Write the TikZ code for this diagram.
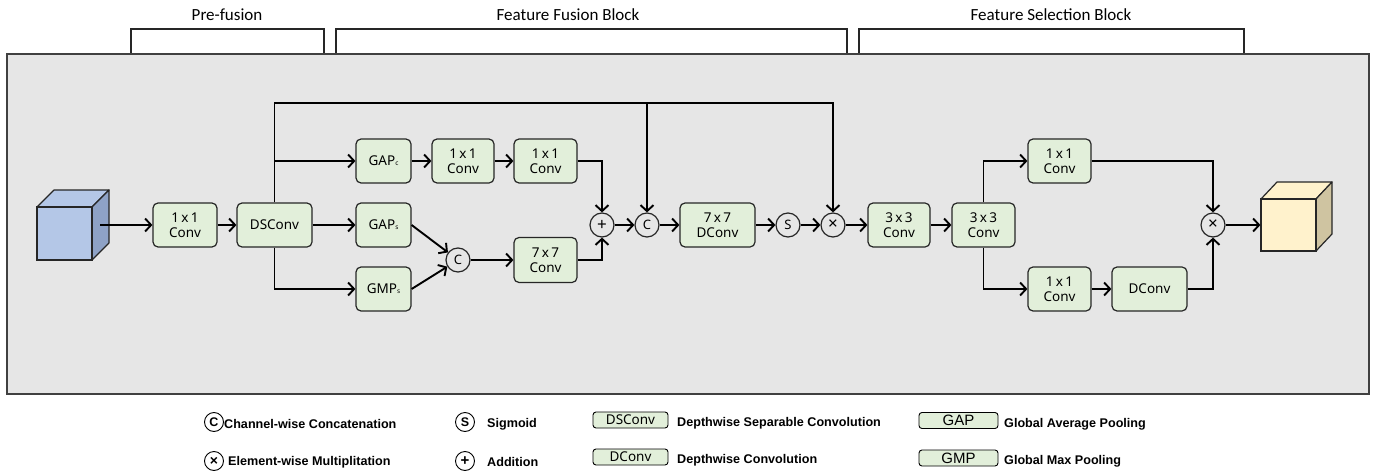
\documentclass[tikz,border=0pt]{standalone}
\usepackage{fontspec}
\setmainfont{Noto Sans}
\newfontfamily\hdrfont{Carlito}
\newfontfamily\lgdfont{Liberation Sans}
\usetikzlibrary{arrows.meta}
\definecolor{bgc}{HTML}{E6E6E6}
\definecolor{boxg}{HTML}{E2EFDA}
\definecolor{edge}{HTML}{262626}
\definecolor{cubeB}{HTML}{B4C7E7}
\definecolor{cubeBs}{HTML}{8EA2C6}
\definecolor{cubeY}{HTML}{FFF2CC}
\definecolor{cubeYs}{HTML}{CFC4A1}
\newcommand{\subsc}[1]{{\fontsize{6.5}{6.5}\selectfont #1}}
\newcommand{\bigx}{{\fontsize{17}{17}\selectfont ×}}
\newcommand{\lbigx}{{\fontsize{14}{14}\selectfont ×}}
\newcommand{\bigplus}{{\fontsize{17}{17}\selectfont +}}
\newcommand{\lbigplus}{{\fontsize{15}{15}\selectfont +}}
\begin{document}
\begin{tikzpicture}[x=1pt,y=-1pt,
  blk/.style={draw=edge, fill=boxg, rounded corners=5pt, line width=1.2pt,
    minimum height=44pt, inner sep=0pt, align=center,
    font=\fontsize{13.5}{15}\selectfont},
  opc/.style={circle, draw=edge, fill=bgc, line width=1.2pt, minimum size=24pt,
    inner sep=0pt, font=\fontsize{13}{13}\selectfont\bfseries},
  arr/.style={line width=1.9pt, -{Straight Barb[length=6pt,width=13pt]}},
  brk/.style={draw=edge, line width=1.1pt},
  hdr/.style={font=\hdrfont\fontsize{17}{17}\selectfont, inner sep=0pt},
  lcirc/.style={circle, draw=black, fill=white, line width=0.9pt, minimum size=19pt,
    inner sep=0pt, font=\lgdfont\fontsize{12.5}{12.5}\selectfont\bfseries},
  ltxt/.style={anchor=west, inner sep=0pt, font=\lgdfont\fontsize{12.6}{12.6}\selectfont\bfseries},
  lbox/.style={draw=black, fill=boxg, rounded corners=3pt, line width=0.9pt,
    minimum width=75pt, minimum height=16pt, inner sep=0pt,
    font=\fontsize{13.5}{13.5}\selectfont},
  lbox2/.style={draw=black, fill=boxg, rounded corners=3pt, line width=0.9pt,
    minimum width=79pt, minimum height=16pt, inner sep=0pt,
    font=\lgdfont\fontsize{15}{15}\selectfont}
]
\useasboundingbox (0,0) rectangle (1378,476);

% headers
\node[hdr] (h1) at (227,15) {Pre-fusion};
\node[hdr] (h2) at (568,15) {Feature Fusion Block};
\node[hdr] (h3) at (1051,15) {Feature Selection Block};
\draw[brk] (131,55) -- (131,29) -- (324,29) -- (324,55);
\draw[brk] (336,55) -- (336,29) -- (847,29) -- (847,55);
\draw[brk] (859,55) -- (859,29) -- (1244,29) -- (1244,55);

% main panel
\draw[fill=bgc, draw=black!75, line width=1.4pt] (7,54) rectangle (1369,394);

% input cube
\fill[cubeB, draw=edge, line width=1.2pt, line join=round] (37,207) -- (54,190) -- (109,190) -- (92,207) -- cycle;
\fill[cubeBs, draw=edge, line width=1.2pt, line join=round] (92,207) -- (109,190) -- (109,243) -- (92,260) -- cycle;
\node[draw=edge, fill=cubeB, line width=1.2pt, minimum width=55pt, minimum height=53pt, inner sep=0pt] (incube) at (64.5,233.5) {};
\coordinate (inc) at (100,225);

% output cube
\fill[cubeY, draw=edge, line width=1.2pt, line join=round] (1261,199) -- (1277,182) -- (1332,182) -- (1316,199) -- cycle;
\fill[cubeYs, draw=edge, line width=1.2pt, line join=round] (1316,199) -- (1332,182) -- (1332,234) -- (1316,251) -- cycle;
\node[draw=edge, fill=cubeY, line width=1.2pt, minimum width=55pt, minimum height=52pt, inner sep=0pt] (outcube) at (1288.5,225) {};

% blocks
\node[blk, minimum width=64pt] (conv1) at (185,225) {1\,x\,1\\Conv};
\node[blk, minimum width=75pt] (dsconv) at (274.5,225) {DSConv};
\node[blk, minimum width=55pt] (gapc) at (383.5,161) {GAP\subsc{c}};
\node[blk, minimum width=55pt] (gaps) at (383.5,225) {GAP\subsc{s}};
\node[blk, minimum width=55pt] (gmps) at (383.5,289) {GMP\subsc{s}};
\node[blk, minimum width=62pt] (c11a) at (463,161) {1\,x\,1\\Conv};
\node[blk, minimum width=63pt] (c11b) at (545.5,161) {1\,x\,1\\Conv};
\node[blk, minimum width=63pt, minimum height=45pt] (c77) at (545.5,260) {7\,x\,7\\Conv};
\node[blk, minimum width=75pt] (dc77) at (717.5,225) {7\,x\,7\\DConv};
\node[blk, minimum width=62pt] (c33a) at (899,225) {3\,x\,3\\Conv};
\node[blk, minimum width=63pt] (c33b) at (983.5,225) {3\,x\,3\\Conv};
\node[blk, minimum width=63pt] (c11c) at (1059.5,161) {1\,x\,1\\Conv};
\node[blk, minimum width=63pt] (c11d) at (1059.5,289) {1\,x\,1\\Conv};
\node[blk, minimum width=75pt] (dcb) at (1149.5,289) {DConv};

% operators
\node[opc] (cat1) at (458,260) {C};
\node[opc] (plus) at (602,225) {\bigplus};
\node[opc] (cat2) at (647,225) {C};
\node[opc] (sig) at (788,225) {S};
\node[opc] (mul1) at (833,225) {\bigx};
\node[opc] (mul2) at (1213,225) {\bigx};

% connectors
\draw[arr] (inc) -- (conv1);
\draw[arr] (conv1) -- (dsconv);
\coordinate (topL) at (274.5,103);
\coordinate (topM) at (647,103);
\draw[arr] (dsconv.north) -- (topL) -| (mul1.north);
\draw[arr] (topM) -- (cat2.north);
\draw[arr] (dsconv.north |- gapc.west) -- (gapc.west);
\draw[arr] (dsconv) -- (gaps);
\draw[arr] (dsconv.south) |- (gmps.west);
\draw[arr] (gapc) -- (c11a);
\draw[arr] (c11a) -- (c11b);
\draw[arr] (c11b.east) -| (plus.north);
\draw[arr] (gaps.east) -- (cat1);
\draw[arr] (gmps.east) -- (cat1);
\draw[arr] (cat1) -- (c77);
\draw[arr] (c77.east) -| (plus.south);
\draw[arr] (plus) -- (cat2);
\draw[arr] (cat2) -- (dc77);
\draw[arr] (dc77) -- (sig);
\draw[arr] (sig) -- (mul1);
\draw[arr] (mul1) -- (c33a);
\draw[arr] (c33a) -- (c33b);
\draw[arr] (c33b.north) |- (c11c.west);
\draw[arr] (c33b.south) |- (c11d.west);
\draw[arr] (c11d) -- (dcb);
\draw[arr] (c11c.east) -| (mul2.north);
\draw[arr] (dcb.east) -| (mul2.south);
\draw[arr] (mul2) -- (outcube.west);

% legend
\node[lcirc] (lc) at (214,422) {C};
\node[ltxt] (lct) at (224,424) {Channel-wise Concatenation};
\node[lcirc] (lm) at (214,461) {\lbigx};
\node[ltxt] (lmt) at (228,462) {Element-wise Multiplitation};
\node[lcirc] (ls) at (465,422) {S};
\node[ltxt] (lst) at (487,424) {Sigmoid};
\node[lcirc] (lp) at (465,461) {\lbigplus};
\node[ltxt] (lpt) at (487,462) {Addition};
\node[lbox] (lds) at (630.5,420) {DSConv};
\node[ltxt] (ldst) at (677,423) {Depthwise Separable Convolution};
\node[lbox] (ldc) at (630.5,457) {DConv};
\node[ltxt] (ldct) at (677,460) {Depthwise Convolution};
\node[lbox2] (lgap) at (958.5,420.5) {GAP};
\node[ltxt] (lgapt) at (1004,424) {Global Average Pooling};
\node[lbox2] (lgmp) at (958.5,458) {GMP};
\node[ltxt] (lgmpt) at (1004,461) {Global Max Pooling};
\end{tikzpicture}
\end{document}
